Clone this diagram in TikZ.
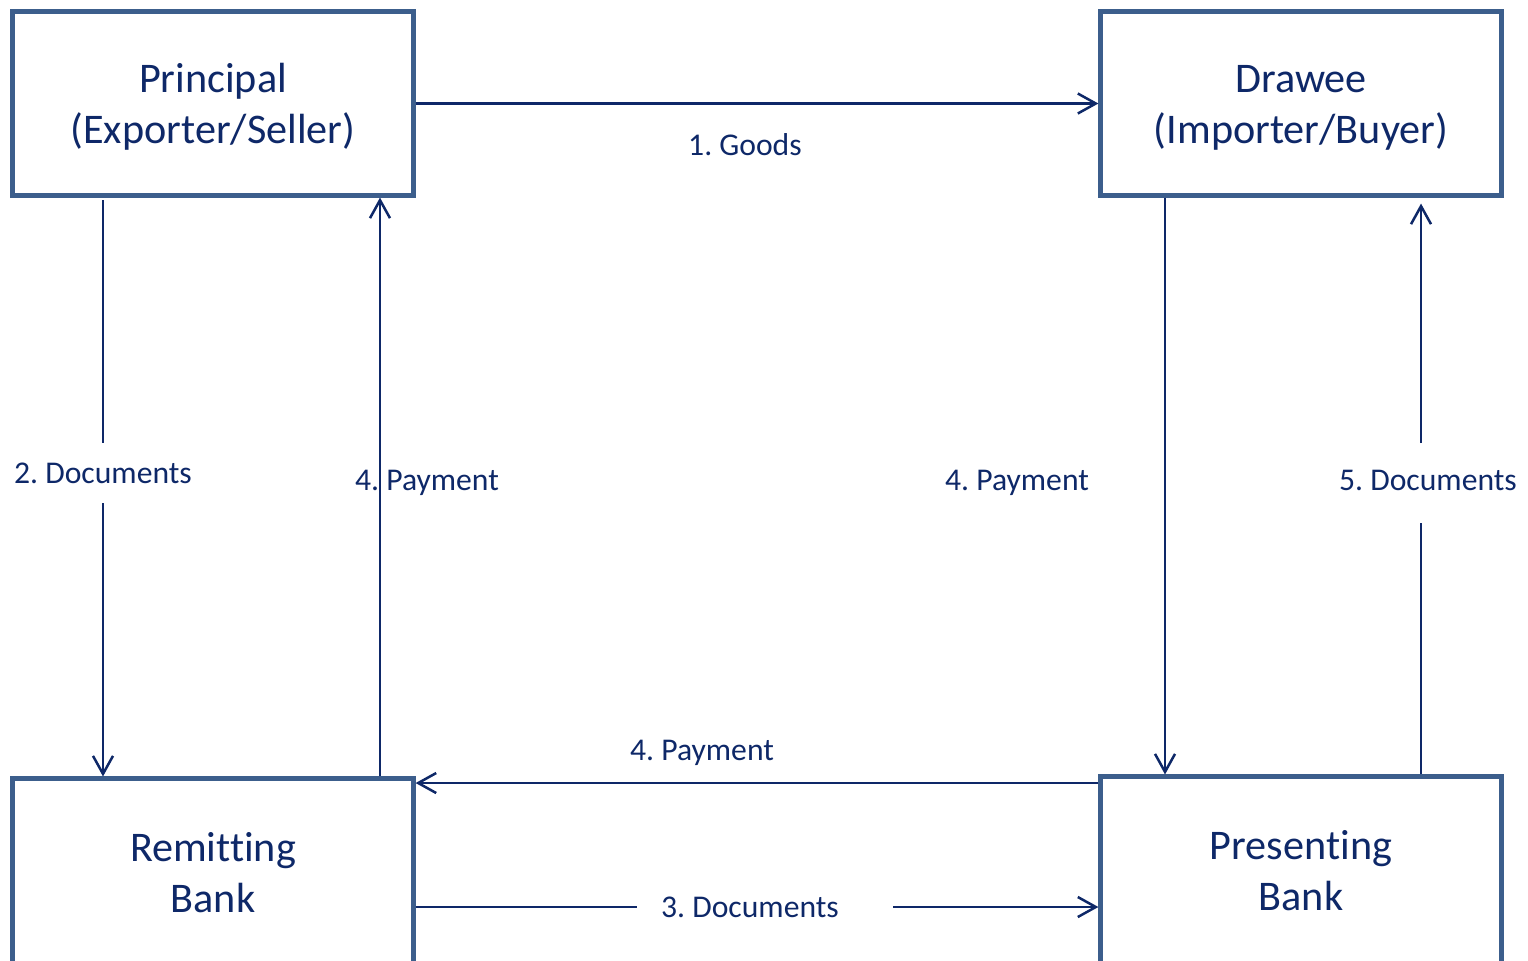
\documentclass[tikz,border=0pt]{standalone}
\usepackage{fontspec}
\setmainfont{Carlito}[Ligatures=CommonOff]
\frenchspacing
\usetikzlibrary{arrows.meta}
\definecolor{boxblue}{RGB}{60,94,140}
\definecolor{navy}{RGB}{14,40,104}
\newcommand{\toppad}{\rule{0pt}{0.36cm}}
\tikzset{
  party/.style={draw=boxblue, line width=0.05cm, minimum width=4cm, minimum height=1.83cm,
    align=center, text=navy, font=\fontsize{12}{14.5}\selectfont},
  flow/.style={draw=navy, line width=0.025cm},
  flowarr/.style={flow, -{Straight Barb[length=1.8mm,width=2mm]}},
  lbl/.style={text=navy, font=\fontsize{9}{11}\selectfont, inner sep=0pt}
}
\begin{document}
\begin{tikzpicture}[x=0.01cm,y=-0.01cm]
\clip (0,0) rectangle (1528,960);
\useasboundingbox (0,0) rectangle (1528,960);
% parties
\node[party] (prin) at (213,103.5) {\toppad Principal\\(Exporter/Seller)};
\node[party] (drawee) at (1301,103.5) {\toppad Drawee\\(Importer/Buyer)};
\node[party, minimum height=1.88cm] (remit) at (213,873) {Remitting\\Bank};
\node[party, minimum height=1.88cm] (pres) at (1301,871) {Presenting\\Bank};
% labels
\node[lbl] (lgoods) at (745,145) {1. Goods};
\node[lbl] (ldoc2) at (103,473) {2. Documents};
\node[lbl] (lpay1) at (427,483) {4. Payment};
\node[lbl] (lpay2) at (1017,483) {4. Payment};
\node[lbl] (ldoc5) at (1428,480) {5. Documents};
\node[lbl] (lpay3) at (702,753) {4. Payment};
\node[lbl] (ldoc3) at (750,907) {3. Documents};
% break points and lanes
\coordinate (d2a) at (103,443);
\coordinate (d2b) at (103,503);
\coordinate (p1) at (380,0);
\coordinate (p2) at (1165,0);
\coordinate (d5a) at (1421,523);
\coordinate (d5b) at (1421,443);
\coordinate (p3) at (0,783);
\coordinate (d3a) at (637,907);
\coordinate (d3b) at (893,907);
% flows
\draw[flowarr] (prin.east) -- (drawee.west);
\draw[flow, shorten <=0.025cm] (prin.south -| d2a) -- (d2a);
\draw[flowarr] (d2b) -- (remit.north -| d2b);
\draw[flowarr] (remit.north -| p1) -- (prin.south -| p1);
\draw[flowarr] (drawee.south -| p2) -- (pres.north -| p2);
\draw[flow] (pres.north -| d5a) -- (d5a);
\draw[flowarr, shorten >=0.06cm] (d5b) -- (drawee.south -| d5b);
\draw[flowarr] (pres.west |- p3) -- (remit.east |- p3);
\draw[flow] (remit.east |- d3a) -- (d3a);
\draw[flowarr] (d3b) -- (pres.west |- d3b);
\end{tikzpicture}
\end{document}
